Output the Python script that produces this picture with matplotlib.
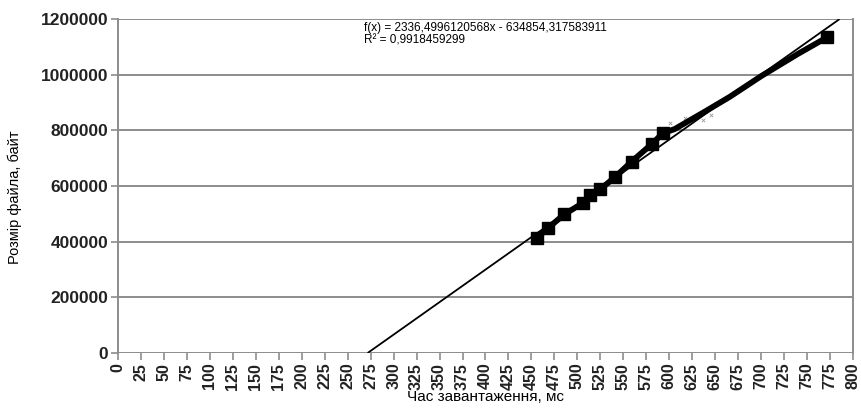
import numpy as np
import matplotlib
matplotlib.use("Agg")
import matplotlib.pyplot as plt

plt.rcParams['font.family'] = ['Liberation Sans', 'DejaVu Sans']

# Load time (ms) and file size (bytes)
load_time_ms = [456, 468, 486, 506, 514, 525, 541, 559, 581, 593, 606, 640, 666, 700, 740, 772]
file_size_b = [413000, 449000, 499000, 539000, 568000, 589000, 632000, 688000,
               751000, 790000, 805000, 870000, 921000, 995000, 1075000, 1135000]
# Points that carry a square marker
marked = [0, 1, 2, 3, 4, 5, 6, 7, 8, 9, 15]

# Faint secondary markers
aux_time_ms = [601, 617, 637, 646]
aux_size_b = [826000, 844000, 837000, 855000]

# Linear trend coefficients
slope = 2336.4996120568
intercept = -634854.317583911
r_squared = 0.9918459299

x_ticks = list(range(0, 801, 25))
y_ticks = list(range(0, 1200001, 200000))

fig = plt.figure(figsize=(8.61, 4.16), dpi=100)
ax = fig.add_axes([0.137, 0.1514, 0.8537, 0.8026])

ax.set_xlim(0, 800)
ax.set_ylim(0, 1200000)

grid_c = '#8c8c8c'
for yv in y_ticks:
    ax.axhline(yv, color=grid_c, lw=1.4, zorder=1)

for side in ('left', 'right'):
    ax.spines[side].set_color(grid_c)
    ax.spines[side].set_linewidth(1.4)
for side in ('top', 'bottom'):
    ax.spines[side].set_visible(False)

# Trend line from y=0 to the top of the axis
x0 = -intercept / slope
x1 = (1200000 - intercept) / slope
ax.plot([x0, x1], [slope * x0 + intercept, slope * x1 + intercept],
        color='black', lw=1.3, zorder=3, solid_capstyle='butt')

# Measured series
ax.plot(load_time_ms, file_size_b, color='black', lw=4.2, marker='s',
        markersize=8, markevery=marked, zorder=4, solid_joinstyle='round')

ax.scatter(aux_time_ms, aux_size_b, marker='x', s=6, color='#9a9a9a',
           linewidths=0.6, zorder=2)

ax.set_xticks(x_ticks)
ax.set_xticklabels([str(v) for v in x_ticks], rotation=90,
                   fontsize=11.5, fontweight='bold', color='#222222')
ax.set_yticks(y_ticks)
ax.set_yticklabels([str(v) for v in y_ticks], fontsize=12.5,
                   fontweight='bold', color='#222222')
ax.tick_params(axis='both', direction='out', length=5, width=1.2,
               color=grid_c, pad=2)

ax.set_xlabel('Час завантаження, мс', fontsize=11)
ax.xaxis.set_label_coords(0.5, -0.11)
ax.set_ylabel('Розмір файла, байт', fontsize=10.5)
ax.yaxis.set_label_coords(-0.131, 0.467)

ax.text(0.335, 0.99,
        'f(x) = 2336,4996120568x - 634854,317583911\nR² = 0,9918459299',
        transform=ax.transAxes, fontsize=8.5, va='top', ha='left',
        linespacing=0.95)

fig.savefig('out.png', dpi=100)
